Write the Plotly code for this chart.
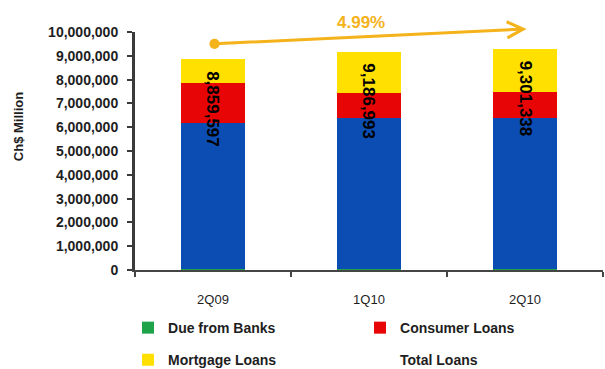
import plotly.graph_objects as go

categories = ["2Q09", "1Q10", "2Q10"]
due_from_banks = [40000, 40000, 40000]
commercial_loans = [6120000, 6340000, 6360000]
consumer_loans = [1680000, 1040000, 1080000]
mortgage_loans = [1020000, 1760000, 1820000]
total_loans = [8859597, 9186993, 9301338]
total_labels = ["8,859,597", "9,186,993", "9,301,338"]
growth_label = "4.99%"
y_ticks = [0, 1000000, 2000000, 3000000, 4000000, 5000000, 6000000, 7000000, 8000000, 9000000, 10000000]

FONT = "Liberation Sans, Arial, sans-serif"
TXT = "#1e1e1e"
ORANGE = "#F4B21B"

fig = go.Figure()
fig.add_bar(x=categories, y=due_from_banks, name="Due from Banks",
            marker=dict(color="#1FA34A", line_width=0), legend="legend")
fig.add_bar(x=categories, y=commercial_loans, name="Commercial Loans",
            marker=dict(color="#0B4DB3", line_width=0), showlegend=False)
fig.add_bar(x=categories, y=consumer_loans, name="Consumer Loans",
            marker=dict(color="#E80505", line_width=0), legend="legend")
fig.add_bar(x=categories, y=mortgage_loans, name="Mortgage Loans",
            marker=dict(color="#FFE000", line_width=0), legend="legend2")
fig.add_scatter(x=categories, y=total_loans, name="Total Loans", mode="markers",
                marker=dict(color="rgba(0,0,0,0)", size=1), legend="legend2")

for i, (c, t, lab) in enumerate(zip(categories, total_loans, total_labels)):
    fig.add_annotation(x=c, y=t, text=lab, textangle=90, showarrow=False,
                       xanchor="center", yanchor="top", yshift=-10,
                       font=dict(family=FONT, size=17, color="#000", weight="bold"))

# growth arrow from first to last period
fig.add_annotation(x=2.01, y=10130000, ax=0, ay=9500000, xref="x", yref="y", axref="x", ayref="y",
                   text="", showarrow=True, arrowhead=5, arrowsize=1.05, arrowwidth=3,
                   arrowcolor=ORANGE, arrowside="end+start", startarrowhead=6, startarrowsize=0.85)
fig.add_annotation(x=0.95, y=1.038, xref="x", yref="paper", text=growth_label, showarrow=False,
                   xanchor="center", yanchor="middle",
                   font=dict(family=FONT, size=17, color=ORANGE, weight="bold"))

fig.add_annotation(x=-0.25, y=0.6, xref="paper", yref="paper", text="Ch$ Million", textangle=-90,
                   xanchor="center", yanchor="middle",
                   showarrow=False, font=dict(family=FONT, size=13, color=TXT, weight="bold"))

legend_common = dict(orientation="h", xanchor="left", yanchor="middle", entrywidth=187,
                     xref="container", yref="container",
                     font=dict(family=FONT, size=14, color=TXT, weight="bold"),
                     bgcolor="rgba(0,0,0,0)", itemclick=False, traceorder="normal")

fig.update_layout(
    width=605, height=369,
    margin=dict(l=135, r=2, t=32, b=99),
    barmode="stack", bargap=0.59,
    plot_bgcolor="white", paper_bgcolor="white",
    font=dict(family=FONT, color=TXT),
    showlegend=True,
    legend=dict(x=0.2116, y=0.111, **legend_common),
    legend2=dict(x=0.2116, y=0.024, **legend_common),
    xaxis=dict(type="category", range=[-0.5, 2.5], showline=True, linecolor="#454545", linewidth=2,
               ticks="outside", tickson="boundaries", ticklen=5, tickwidth=2, tickcolor="#454545",
               tickfont=dict(family=FONT, size=13, color=TXT), ticklabelstandoff=16,
               showgrid=False, zeroline=False),
    yaxis=dict(range=[0, 10000000], tickvals=y_ticks, tickformat=",d", showline=True,
               linecolor="#3a3a3a", linewidth=3, ticks="outside", ticklen=5, tickwidth=2,
               tickcolor="#3a3a3a", tickfont=dict(family=FONT, size=14, color=TXT, weight="bold"),
               ticklabelstandoff=6, showgrid=False, zeroline=False),
)

fig.write_html("out.html", config={"displayModeBar": False},
               post_script="document.body.style.margin='0';")
